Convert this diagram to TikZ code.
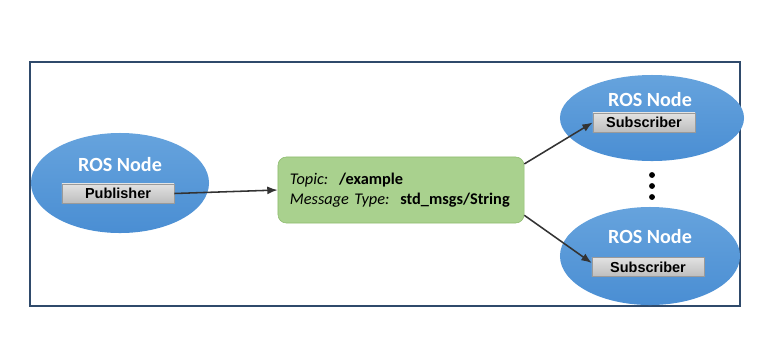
\documentclass[tikz,border=0pt]{standalone}
\usepackage{fontspec}
\setmainfont{Carlito}
\newfontfamily\arialfont{Liberation Sans}
\usetikzlibrary{positioning,arrows.meta,shapes.geometric}
\definecolor{ROSblue}{HTML}{4A8ED3}
\definecolor{ROSblueLight}{HTML}{66A3DD}
\definecolor{ROSgreyTop}{HTML}{E2E2E2}
\definecolor{ROSgreyBot}{HTML}{BDBDBD}
\definecolor{ROSgreyLine}{HTML}{9A9A9A}
\definecolor{ROSgreen}{HTML}{A9D18E}
\definecolor{ROSgreenLine}{HTML}{8DBB6E}
\definecolor{ROSframe}{HTML}{2F4A6B}
\definecolor{ROSarrow}{HTML}{333333}
\tikzset{
  rosnode/.style={ellipse, draw=none, top color=ROSblueLight, bottom color=ROSblue, inner sep=0pt},
  rostitle/.style={font=\fontsize{14.3}{17}\selectfont\bfseries, text=white, inner sep=0pt},
  rolebox/.style={draw=ROSgreyLine, top color=ROSgreyTop, bottom color=ROSgreyBot, minimum height=0.48cm, inner sep=0pt, font=\arialfont\fontsize{10.3}{12}\selectfont\bfseries},
  topicbox/.style={rounded corners=6pt, draw=ROSgreenLine, fill=ROSgreen, align=left, text width=5.55cm, minimum width=6.15cm, minimum height=1.65cm, inner xsep=0.3cm, font=\fontsize{11.6}{14.2}\selectfont},
  flowarr/.style={-{Latex[length=2.6mm, width=2mm]}, line width=1.1pt, draw=ROSarrow}
}
\begin{document}
\begin{tikzpicture}[x=0.025cm, y=-0.025cm]
  \useasboundingbox (0,0) rectangle (775,337);
  \draw[ROSframe, line width=0.8pt] (30,62) rectangle (740,306);
  % publisher side
  \node[rosnode, minimum width=4.45cm, minimum height=2.5cm] (pub) at (120,183) {};
  \node[rostitle] (pubtitle) at (120,165) {ROS Node};
  \node[rolebox, minimum width=2.8cm] (pubbox) at (118,193.5) {Publisher};
  % topic
  \node[topicbox] (topic) at (401,190) {{\itshape Topic:}\ \ \textbf{/example}\\{\itshape Message Type:}\ \ \textbf{std\_msgs/String}};
  % subscribers
  \node[rosnode, minimum width=4.6cm, minimum height=2.15cm] (subA) at (652,118) {};
  \node[rostitle] (subAtitle) at (650,100) {ROS Node};
  \node[rolebox, minimum width=2.55cm] (subAbox) at (644,122.5) {Subscriber};
  \node[rosnode, minimum width=4.5cm, minimum height=2.45cm] (subB) at (650,256) {};
  \node[rostitle] (subBtitle) at (650,237) {ROS Node};
  \node[rolebox, minimum width=2.8cm] (subBbox) at (648,267) {Subscriber};
  \foreach \y in {175,186,197} \fill (652,\y) circle (2.1pt);
  % arrows
  \draw[flowarr] (pubbox.east) -- (topic.west);
  \draw[flowarr] ([yshift=-0.18cm]topic.north east) -- (subAbox.west);
  \draw[flowarr] ([yshift=0.2cm]topic.south east) -- ([yshift=0.1cm]subBbox.west);
\end{tikzpicture}
\end{document}
